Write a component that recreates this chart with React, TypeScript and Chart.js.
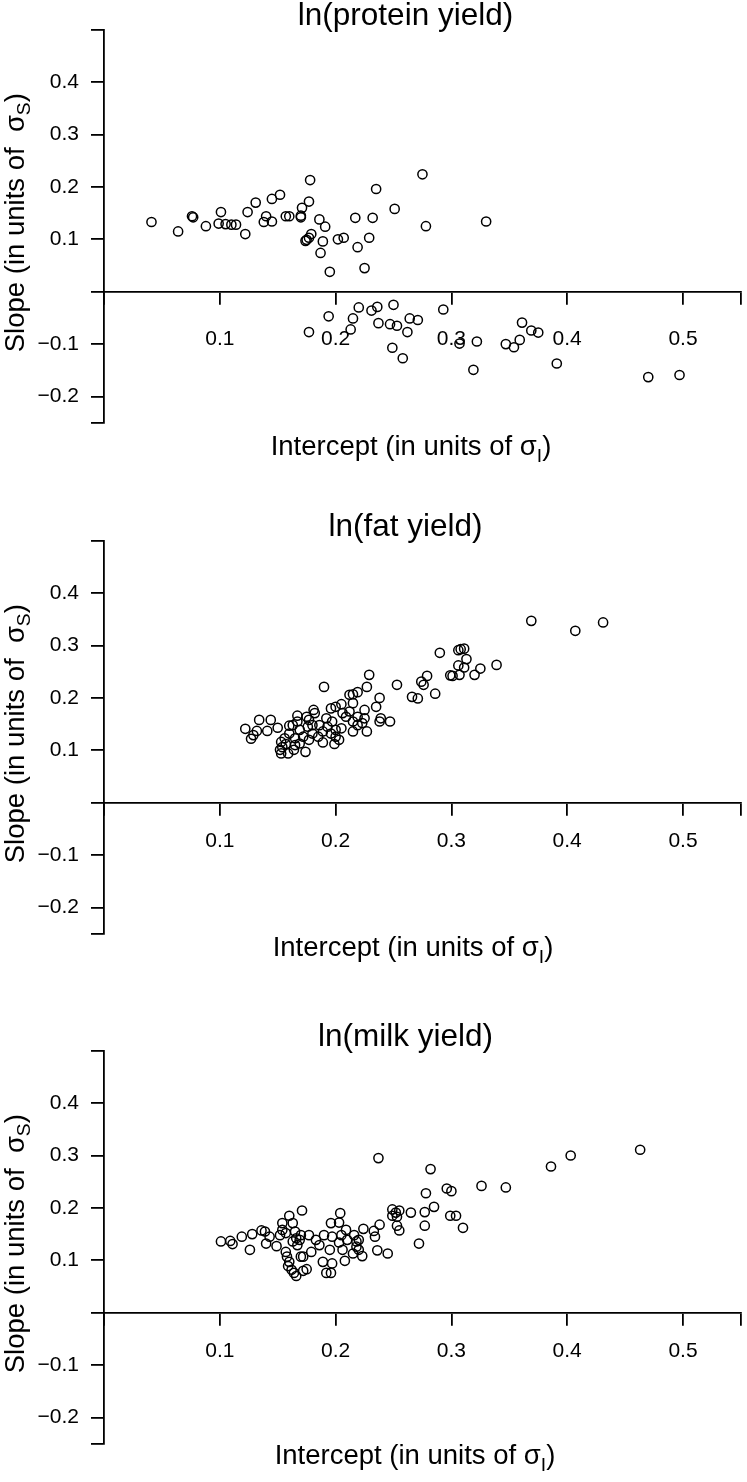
import React, { useEffect, useRef } from "react";
import { Chart, registerables } from "chart.js";

Chart.register(...registerables);

// ---------- data ----------
const proteinIntercept = [
  0.041, 0.064, 0.076, 0.077, 0.088, 0.101, 0.099, 0.105, 0.110, 0.114, 0.122, 0.124, 0.131, 0.138, 0.140,
  0.145, 0.145, 0.152, 0.157, 0.160, 0.170, 0.171, 0.170, 0.177, 0.178, 0.179, 0.177, 0.174, 0.175, 0.186,
  0.191, 0.189, 0.187, 0.195, 0.202, 0.207, 0.217, 0.219, 0.225, 0.229, 0.232, 0.235, 0.275, 0.251, 0.278,
  0.330,
  0.177, 0.194, 0.215, 0.220, 0.213, 0.231, 0.236, 0.250, 0.293, 0.237, 0.247, 0.253, 0.262, 0.264, 0.271,
  0.249, 0.258, 0.307, 0.322, 0.319, 0.361, 0.369, 0.375, 0.359, 0.347, 0.354, 0.391, 0.470, 0.497,
];
const proteinSlope = [
  0.133, 0.115, 0.144, 0.142, 0.125, 0.152, 0.130, 0.129, 0.128, 0.128, 0.110, 0.152, 0.170, 0.133, 0.144,
  0.134, 0.177, 0.185, 0.144, 0.144, 0.142, 0.160, 0.145, 0.172, 0.213, 0.110, 0.103, 0.097, 0.099, 0.138,
  0.124, 0.096, 0.074, 0.038, 0.100, 0.103, 0.141, 0.085, 0.045, 0.103, 0.141, 0.196, 0.224, 0.158, 0.125,
  0.134,
  -0.077, -0.047, -0.051, -0.030, -0.072, -0.036, -0.029, -0.025, -0.034, -0.060, -0.062, -0.065, -0.077, -0.051, -0.054,
  -0.107, -0.127, -0.099, -0.095, -0.149, -0.059, -0.074, -0.078, -0.092, -0.100, -0.106, -0.137, -0.163, -0.159,
];

const fatIntercept = [
  0.369, 0.407, 0.431, 0.339, 0.325, 0.320, 0.313, 0.311, 0.308, 0.306, 0.311, 0.306, 0.307, 0.299, 0.301,
  0.290, 0.279, 0.274, 0.276, 0.286, 0.271, 0.266, 0.253, 0.247, 0.238, 0.235, 0.238, 0.239, 0.227, 0.229,
  0.227, 0.225, 0.225, 0.223,
  0.190, 0.219, 0.212, 0.215, 0.205, 0.200, 0.196, 0.215, 0.215, 0.181, 0.167, 0.134, 0.144, 0.122, 0.127,
  0.129, 0.132, 0.141, 0.150, 0.160, 0.153, 0.152, 0.154, 0.157, 0.164, 0.174, 0.169, 0.165, 0.160, 0.169,
  0.176, 0.177, 0.182, 0.186, 0.189, 0.185, 0.189, 0.193, 0.196, 0.199, 0.200, 0.203, 0.205, 0.197, 0.192,
  0.209, 0.206, 0.212, 0.219, 0.215, 0.219, 0.180, 0.177, 0.163, 0.167, 0.172, 0.156, 0.159, 0.153, 0.165,
  0.200, 0.175, 0.180,
];
const fatSlope = [
  0.347, 0.328, 0.344, 0.263, 0.256, 0.244, 0.274, 0.294, 0.293, 0.291, 0.258, 0.262, 0.244, 0.243, 0.242,
  0.286, 0.242, 0.231, 0.225, 0.208, 0.199, 0.202, 0.225, 0.155, 0.200, 0.183, 0.155, 0.161, 0.136, 0.244,
  0.221, 0.177, 0.161, 0.152,
  0.221, 0.211, 0.206, 0.207, 0.188, 0.183, 0.180, 0.190, 0.136, 0.177, 0.166, 0.158, 0.158, 0.141, 0.122,
  0.129, 0.137, 0.137, 0.143, 0.147, 0.116, 0.101, 0.106, 0.112, 0.101, 0.097, 0.113, 0.123, 0.132, 0.139,
  0.145, 0.158, 0.171, 0.148, 0.136, 0.126, 0.115, 0.145, 0.132, 0.112, 0.126, 0.120, 0.142, 0.155, 0.161,
  0.164, 0.171, 0.174, 0.164, 0.155, 0.148, 0.132, 0.120, 0.148, 0.155, 0.126, 0.123, 0.094, 0.094, 0.110,
  0.139, 0.164, 0.148,
];

const milkIntercept = [
  0.463, 0.403, 0.386, 0.347, 0.326, 0.310, 0.304, 0.299, 0.300, 0.296, 0.282, 0.278, 0.285, 0.277, 0.277,
  0.272, 0.265, 0.255, 0.252, 0.249, 0.249, 0.253, 0.253, 0.255, 0.238, 0.233, 0.234, 0.224, 0.236, 0.245,
  0.237, 0.223,
  0.101, 0.109, 0.111, 0.119, 0.126, 0.128, 0.136, 0.139, 0.140, 0.143, 0.149, 0.152, 0.154, 0.160, 0.154,
  0.157, 0.163, 0.165, 0.166, 0.170, 0.171, 0.163, 0.167, 0.169, 0.157, 0.158, 0.160, 0.159, 0.162, 0.166,
  0.164, 0.170, 0.172, 0.172, 0.175, 0.177, 0.179, 0.183, 0.186, 0.189, 0.192, 0.196, 0.190, 0.195, 0.197,
  0.196, 0.197, 0.203, 0.204, 0.203, 0.205, 0.206, 0.208, 0.209, 0.210, 0.215, 0.216, 0.218, 0.218, 0.220,
  0.220,
];
const milkSlope = [
  0.311, 0.300, 0.279, 0.239, 0.242, 0.162, 0.185, 0.185, 0.232, 0.237, 0.274, 0.228, 0.202, 0.192, 0.166,
  0.132, 0.191, 0.195, 0.191, 0.197, 0.185, 0.183, 0.166, 0.157, 0.168, 0.156, 0.145, 0.160, 0.119, 0.113,
  0.295, 0.108,
  0.136, 0.137, 0.131, 0.145, 0.120, 0.150, 0.157, 0.155, 0.132, 0.145, 0.127, 0.148, 0.171, 0.185, 0.158,
  0.152, 0.171, 0.155, 0.142, 0.148, 0.195, 0.136, 0.129, 0.139, 0.116, 0.107, 0.097, 0.089, 0.082, 0.070,
  0.076, 0.107, 0.107, 0.080, 0.083, 0.148, 0.116, 0.139, 0.129, 0.097, 0.076, 0.076, 0.148, 0.120, 0.094,
  0.171, 0.145, 0.172, 0.190, 0.134, 0.148, 0.120, 0.099, 0.158, 0.139, 0.113, 0.148, 0.136, 0.126, 0.139,
  0.120,
];

const xTickValues = [0, 0.1, 0.2, 0.3, 0.4, 0.5, 0.55];
const xTickLabels = ["", "0.1", "0.2", "0.3", "0.4", "0.5", ""];
const yTickValues = [-0.25, -0.2, -0.1, 0, 0.1, 0.2, 0.3, 0.4, 0.5];
const yTickLabels = ["", "\u22120.2", "\u22120.1", "", "0.1", "0.2", "0.3", "0.4", ""];
const panelTitles = ["ln(protein yield)", "ln(fat yield)", "ln(milk yield)"];

const FONT = "'Liberation Sans', Arial, Helvetica, sans-serif";
const W = 747;
const H = 511;

function labelFor(values: number[], labels: string[], v: number) {
  for (let i = 0; i < values.length; i++) {
    if (Math.abs(values[i] - v) < 1e-6) return labels[i];
  }
  return "";
}

function drawSub(ctx: CanvasRenderingContext2D, main: string, sub: string, tail: string, cx: number, by: number, size: number) {
  ctx.font = `${size}px ${FONT}`;
  const w1 = ctx.measureText(main).width;
  const w3 = ctx.measureText(tail).width;
  ctx.font = `${size * 0.7}px ${FONT}`;
  const w2 = ctx.measureText(sub).width;
  const total = w1 + w2 + w3;
  let x = cx - total / 2;
  ctx.textAlign = "left";
  ctx.textBaseline = "alphabetic";
  ctx.font = `${size}px ${FONT}`;
  ctx.fillText(main, x, by);
  x += w1;
  ctx.font = `${size * 0.7}px ${FONT}`;
  ctx.fillText(sub, x, by + size * 0.25);
  x += w2;
  ctx.font = `${size}px ${FONT}`;
  ctx.fillText(tail, x, by);
}

type PanelProps = {
  title: string;
  xs: number[];
  ys: number[];
  top: number;
  tickPad: number;
  xTitleDy: number;
  xTitleX: number;
};

function Panel({ title, xs, ys, top, tickPad, xTitleDy, xTitleX }: PanelProps) {
  const ref = useRef<HTMLCanvasElement | null>(null);
  useEffect(() => {
    if (!ref.current) return;
    const textPlugin = {
      id: "panelText",
      afterDraw(chart: any) {
        const ctx: CanvasRenderingContext2D = chart.ctx;
        const zero = chart.scales.y.getPixelForValue(0);
        ctx.save();
        ctx.fillStyle = "#000";
        ctx.font = `31.5px ${FONT}`;
        ctx.textAlign = "center";
        ctx.textBaseline = "alphabetic";
        ctx.fillText(title, 405.5, zero - 266.5);
        drawSub(ctx, "Intercept (in units of \u03c3", "I", ")", xTitleX, zero + xTitleDy, 27.5);
        ctx.translate(23.5, zero - 69);
        ctx.rotate(-Math.PI / 2);
        drawSub(ctx, "Slope (in units of  \u03c3", "S", ")", 0, 0, 27.5);
        ctx.restore();
      },
    };
    const chart = new Chart(ref.current, {
      type: "scatter",
      data: {
        datasets: [
          {
            data: xs.map((x, i) => ({ x, y: ys[i] })),
            pointStyle: "circle",
            pointRadius: 4.6,
            pointHoverRadius: 4.6,
            pointBorderWidth: 1.5,
            pointBorderColor: "#000",
            pointBackgroundColor: "rgba(0,0,0,0)",
            borderColor: "#000",
            backgroundColor: "rgba(0,0,0,0)",
          },
        ],
      },
      options: {
        animation: false,
        responsive: false,
        events: [],
        layout: { padding: { left: 0, right: 4, top: 29.7, bottom: H - 422.7 } },
        plugins: {
          legend: { display: false },
          tooltip: { enabled: false },
          title: { display: false },
        },
        scales: {
          x: {
            type: "linear",
            position: { y: 0 } as any,
            min: 0,
            max: 0.55,
            afterBuildTicks: (s: any) => {
              s.ticks = xTickValues.map((v) => ({ value: v }));
            },
            afterFit: (s: any) => {
              s.paddingLeft = 0;
              s.paddingRight = 0;
            },
            ticks: {
              autoSkip: false,
              maxRotation: 0,
              minRotation: 0,
              padding: tickPad,
              color: "#000",
              font: { family: FONT, size: 21 },
              callback: (v: any) => labelFor(xTickValues, xTickLabels, Number(v)),
            },
            grid: { drawOnChartArea: false, drawTicks: true, tickLength: 12, color: "#000", lineWidth: 1.8 },
            border: { display: true, color: "#000", width: 1.8 },
          },
          y: {
            type: "linear",
            position: "left",
            min: -0.25,
            max: 0.5,
            afterBuildTicks: (s: any) => {
              s.ticks = yTickValues.map((v) => ({ value: v }));
            },
            afterFit: (s: any) => {
              s.width = 104;
              s.paddingTop = 0;
              s.paddingBottom = 0;
            },
            ticks: {
              autoSkip: false,
              padding: 12,
              color: "#000",
              font: { family: FONT, size: 21 },
              callback: (v: any) => labelFor(yTickValues, yTickLabels, Number(v)),
            },
            grid: { drawOnChartArea: false, drawTicks: true, tickLength: 13, color: "#000", lineWidth: 1.8 },
            border: { display: true, color: "#000", width: 1.8 },
          },
        },
      } as any,
      plugins: [textPlugin],
    });
    return () => chart.destroy();
  }, [title, xs, ys, tickPad, xTitleDy, xTitleX]);

  return (
    <canvas
      ref={ref}
      width={W}
      height={H}
      style={{ position: "absolute", left: 0, top, width: W, height: H, display: "block" }}
    />
  );
}

export default function App() {
  return (
    <div
      style={{
        position: "absolute",
        left: 0,
        top: 0,
        width: W,
        height: 1482,
        overflow: "hidden",
        background: "#fff",
      }}
    >
      <Panel title={panelTitles[0]} xs={proteinIntercept} ys={proteinSlope} top={0} tickPad={23} xTitleDy={163} xTitleX={411} />
      <Panel title={panelTitles[1]} xs={fatIntercept} ys={fatSlope} top={511} tickPad={14} xTitleDy={153} xTitleX={413} />
      <Panel title={panelTitles[2]} xs={milkIntercept} ys={milkSlope} top={1021} tickPad={14} xTitleDy={151} xTitleX={415} />
    </div>
  );
}
